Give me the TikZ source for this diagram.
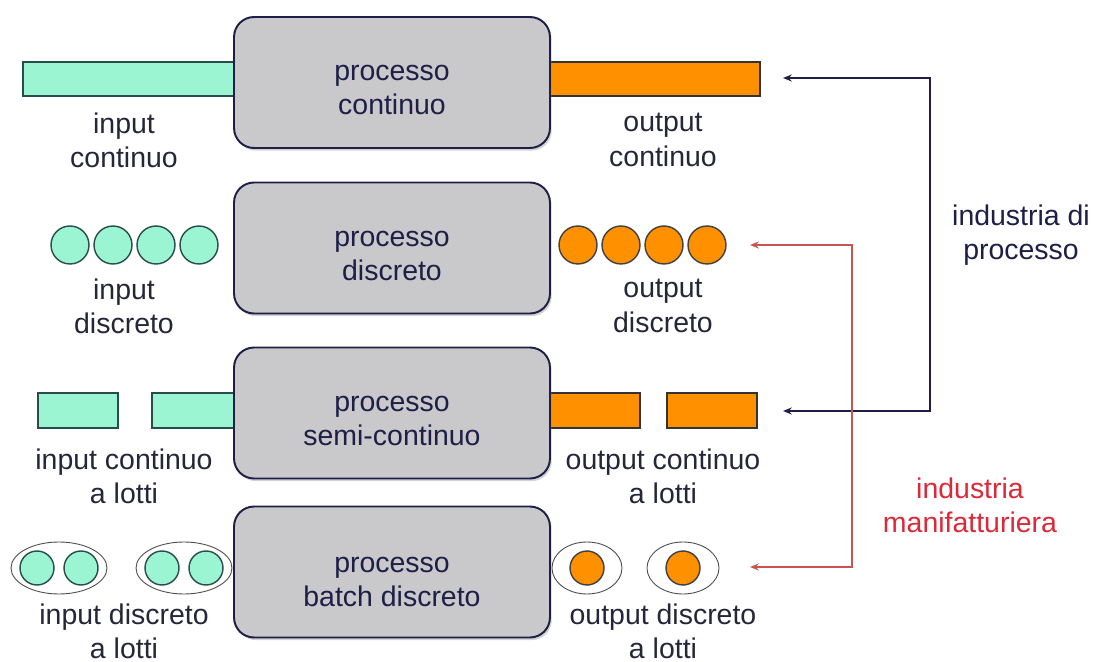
\documentclass[tikz,border=0pt]{standalone}
\usepackage{fontspec}
\setmainfont{Liberation Sans}
\usetikzlibrary{shapes.geometric, shadows, arrows.meta}

\definecolor{mint}{RGB}{155,245,210}
\definecolor{mintline}{RGB}{40,75,75}
\definecolor{orng}{RGB}{255,145,0}
\definecolor{boxgray}{RGB}{201,201,204}
\definecolor{navy}{RGB}{30,30,70}
\definecolor{labelgray}{RGB}{38,38,58}
\definecolor{manred}{RGB}{220,40,55}
\definecolor{manline}{RGB}{200,85,80}

\begin{document}
\begin{tikzpicture}[x=0.02cm, y=-0.02cm, align=center, font=\fontsize{16.2}{19.5}\selectfont]
\tikzstyle{proc} = [rectangle, rounded corners=0.4cm, draw=navy, line width=1.1pt, fill=boxgray, minimum width=6.32cm, minimum height=2.62cm, drop shadow={opacity=0.35, shadow xshift=1pt, shadow yshift=-1.5pt}]
\tikzstyle{ptxt} = [text=navy]
\tikzstyle{bin} = [rectangle, draw=mintline, fill=mint, line width=0.8pt, inner sep=0pt]
\tikzstyle{bout} = [rectangle, draw=black!80, fill=orng, line width=0.8pt, inner sep=0pt]
\tikzstyle{cin} = [circle, draw=mintline, fill=mint, line width=0.8pt, minimum size=0.76cm, inner sep=0pt]
\tikzstyle{cout} = [circle, draw=black!75, fill=orng, line width=0.8pt, minimum size=0.76cm, inner sep=0pt]
\tikzstyle{lot} = [ellipse, draw=black!70, line width=0.5pt, minimum height=1.04cm, inner sep=0pt]
\tikzstyle{lbl} = [text=labelgray]
\tikzstyle{e} = [line width=0.8pt, {Stealth[length=5pt,width=4pt]}-{Stealth[length=5pt,width=4pt]}]

\useasboundingbox (0,0) rectangle (1093,662);

% riga 1: continuo
\node[bin, minimum width=4.22cm, minimum height=0.68cm] (in1) at (128.5,79) {};
\node[bout, minimum width=4.2cm, minimum height=0.68cm] (out1) at (655,79) {};

% riga 2: discreto
\node[cin] (in2a) at (70,245) {};
\node[cin] (in2b) at (113,245) {};
\node[cin] (in2c) at (156,245) {};
\node[cin] (in2d) at (199,245) {};
\node[cout] (out2a) at (578,245) {};
\node[cout] (out2b) at (621,245) {};
\node[cout] (out2c) at (664,245) {};
\node[cout] (out2d) at (707,245) {};

% riga 3: semi-continuo
\node[bin, minimum width=1.6cm, minimum height=0.7cm] (in3a) at (78,410.5) {};
\node[bin, minimum width=1.64cm, minimum height=0.7cm] (in3b) at (193,410.5) {};
\node[bout, minimum width=1.8cm, minimum height=0.7cm] (out3a) at (595,410.5) {};
\node[bout, minimum width=1.8cm, minimum height=0.7cm] (out3b) at (712,410.5) {};

% riga 4: batch
\node[lot, minimum width=1.92cm] (in4a) at (59,568) {};
\node[lot, minimum width=1.92cm] (in4b) at (184,568) {};
\node[cin, minimum size=0.68cm] (in4a1) at (37,568) {};
\node[cin, minimum size=0.68cm] (in4a2) at (81,568) {};
\node[cin, minimum size=0.68cm] (in4b1) at (162,568) {};
\node[cin, minimum size=0.68cm] (in4b2) at (206,568) {};
\node[lot, minimum width=1.4cm] (out4a) at (587,568) {};
\node[lot, minimum width=1.44cm] (out4b) at (683,568) {};
\node[cout, minimum size=0.68cm] (out4a1) at (587,568) {};
\node[cout, minimum size=0.68cm] (out4b1) at (683,568) {};

% processi
\node[proc] (P1) at (392,82.5) {};
\node[proc] (P2) at (392,248) {};
\node[proc] (P3) at (392,413) {};
\node[proc] (P4) at (392,572) {};
\node[ptxt] (T1) at (392,90) {processo\\continuo};
\node[ptxt] (T2) at (392,256) {processo\\discreto};
\node[ptxt] (T3) at (392,421) {processo\\semi-continuo};
\node[ptxt] (T4) at (392,582) {processo\\batch discreto};

% etichette
\node[lbl] (Lin1) at (124,140) {input\\continuo};
\node[lbl] (Lout1) at (663,140) {output\\continuo};
\node[lbl] (Lin2) at (124,306) {input\\discreto};
\node[lbl] (Lout2) at (663,306) {output\\discreto};
\node[lbl] (Lin3) at (124,476) {input continuo\\a lotti};
\node[lbl] (Lout3) at (663,476) {output continuo\\a lotti};
\node[lbl] (Lin4) at (124,631) {input discreto\\a lotti};
\node[lbl] (Lout4) at (663,631) {output discreto\\a lotti};

\node[text=navy] (IP) at (1021,235) {industria di\\processo};
\node[text=manred] (IM) at (970,505) {industria\\manifatturiera};

% frecce
\coordinate (pa) at (783,78);
\coordinate (pb) at (783,411);
\coordinate (pv) at (930,245);
\coordinate (ma) at (750,245);
\coordinate (mb) at (750,567);
\coordinate (mv) at (852,400);

\draw[e, navy] (pa) -| (pv) |- (pb);
\draw[e, manline] (ma) -| (mv) |- (mb);
\end{tikzpicture}
\end{document}
